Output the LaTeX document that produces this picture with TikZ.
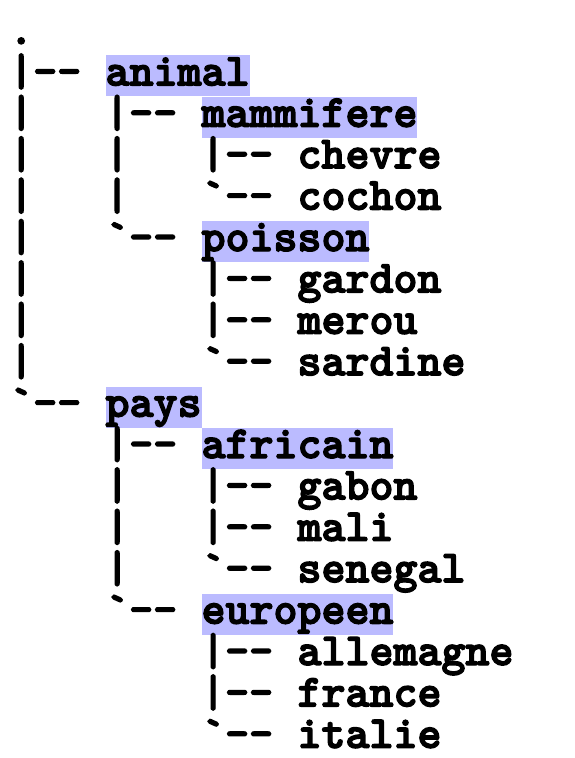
\documentclass[tikz,border=0pt]{standalone}
\usepackage{fontspec}
\setmonofont{lmmonolt10-bold}[Extension=.otf, FakeBold=3]
\usetikzlibrary{positioning}
\definecolor{dirbg}{HTML}{BBBBFF}

\begin{document}
\begin{tikzpicture}[
    x=1pt, y=1pt,
    every node/.style={font=\fontsize{45.7}{41}\selectfont\ttfamily, inner sep=0pt, text height=30pt, text depth=11pt},
    branch/.style={below=0pt of #1.south west, anchor=north west, execute at end node={\phantom{-}}},
    dir/.style={fill=dirbg}
]
\useasboundingbox (0,0) rectangle (574,-758);

\node[anchor=base west] (root) at (9,-44) {.};
\node[branch=root] (b1) {|--};
\node[dir, right=0pt of b1] (animal) {animal};
\node[branch=b1] (b2) {|~~~|--};
\node[dir, right=0pt of b2] (mammifere) {mammifere};
\node[branch=b2] (b3) {|~~~|~~~|--};
\node[right=0pt of b3] (chevre) {chevre};
\node[branch=b3] (b4) {|~~~|~~~`--};
\node[right=0pt of b4] (cochon) {cochon};
\node[branch=b4] (b5) {|~~~`--};
\node[dir, right=0pt of b5] (poisson) {poisson};
\node[branch=b5] (b6) {|~~~~~~~|--};
\node[right=0pt of b6] (gardon) {gardon};
\node[branch=b6] (b7) {|~~~~~~~|--};
\node[right=0pt of b7] (merou) {merou};
\node[branch=b7] (b8) {|~~~~~~~`--};
\node[right=0pt of b8] (sardine) {sardine};
\node[branch=b8] (b9) {`--};
\node[dir, right=0pt of b9] (pays) {pays};
\node[branch=b9] (b10) {~~~~|--};
\node[dir, right=0pt of b10] (africain) {africain};
\node[branch=b10] (b11) {~~~~|~~~|--};
\node[right=0pt of b11] (gabon) {gabon};
\node[branch=b11] (b12) {~~~~|~~~|--};
\node[right=0pt of b12] (mali) {mali};
\node[branch=b12] (b13) {~~~~|~~~`--};
\node[right=0pt of b13] (senegal) {senegal};
\node[branch=b13] (b14) {~~~~`--};
\node[dir, right=0pt of b14] (europeen) {europeen};
\node[branch=b14] (b15) {~~~~~~~~|--};
\node[right=0pt of b15] (allemagne) {allemagne};
\node[branch=b15] (b16) {~~~~~~~~|--};
\node[right=0pt of b16] (france) {france};
\node[branch=b16] (b17) {~~~~~~~~`--};
\node[right=0pt of b17] (italie) {italie};

\end{tikzpicture}
\end{document}
